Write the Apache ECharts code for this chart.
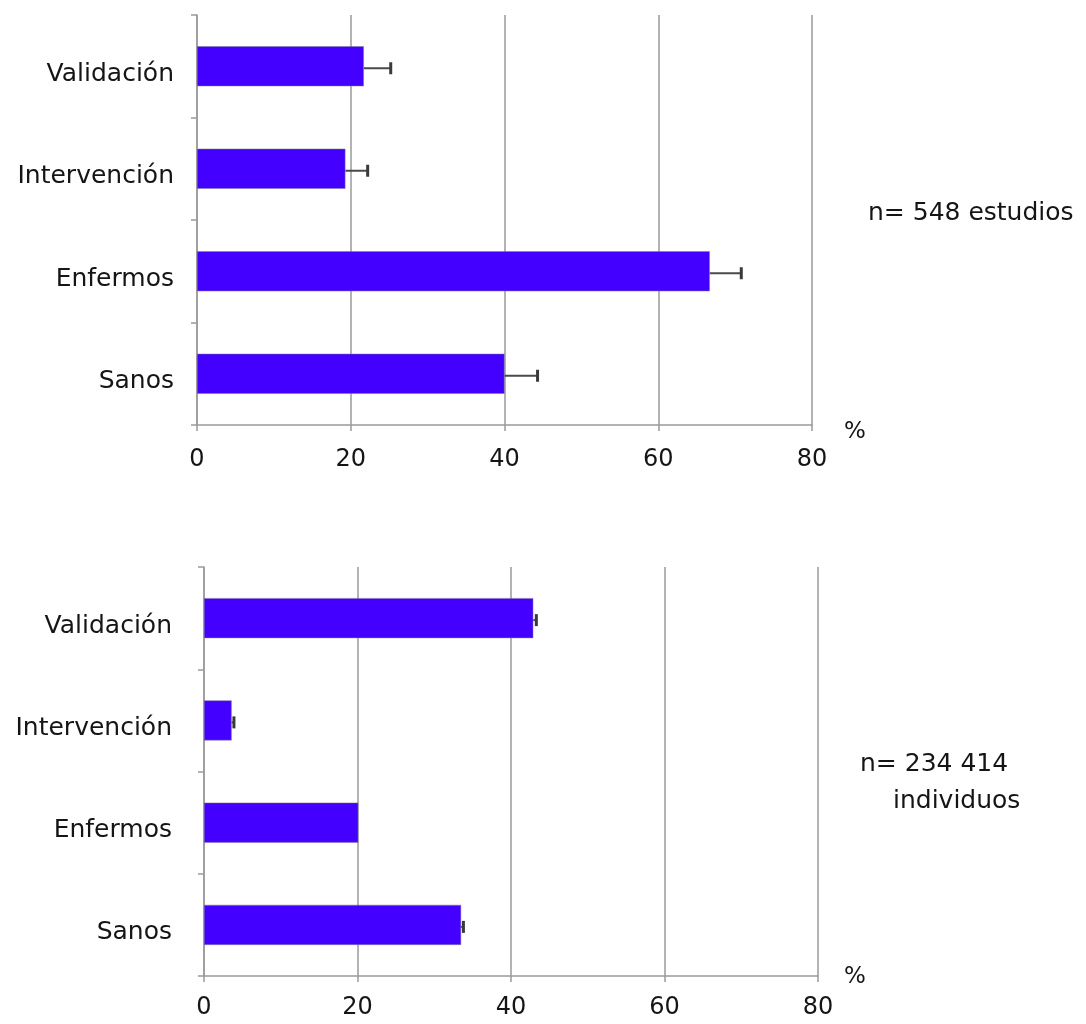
<!DOCTYPE html>
<html>
<head>
<meta charset="utf-8">
<script src="https://cdn.jsdelivr.net/npm/echarts@6/dist/echarts.min.js"></script>
<style>html,body{margin:0;padding:0;background:#fff}#c{width:1086px;height:1024px}</style>
</head>
<body>
<div id="c"></div>
<script>
var categories = ['Sanos', 'Enfermos', 'Intervención', 'Validación'];
var estudiosValues = [40.0, 66.7, 19.3, 21.7];
var estudiosErrors = [4.3, 4.1, 2.9, 3.5];
var individuosValues = [33.5, 20.1, 3.6, 42.9];
var individuosErrors = [0.3, 0.0, 0.3, 0.4];
var xMin = 0, xMax = 80, xInterval = 20;
var noteTop = 'n= 548 estudios';
var noteBottom1 = 'n= 234 414';
var noteBottom2 = 'individuos';
var unitLabel = '%';

var FONT = 'DejaVu Sans';
var TXT = '#151515';
var GRID = '#9a9a9a';
var BAR = '#4400ff';

function errData(vals, errs) {
  return vals.map(function (v, i) { return [i, v, errs[i]]; });
}
function errRender(params, api) {
  var cat = api.value(0), v = api.value(1), e = api.value(2);
  if (!(e > 0)) { return { type: 'group', children: [] }; }
  var s = api.coord([v, cat]);
  var t = api.coord([v + e, cat]);
  return {
    type: 'group',
    children: [
      { type: 'line', shape: { x1: s[0], y1: s[1] + 2, x2: t[0], y2: t[1] + 2 }, style: { stroke: '#4a4a4a', lineWidth: 2 } },
      { type: 'line', shape: { x1: t[0], y1: t[1] - 4, x2: t[0], y2: t[1] + 8 }, style: { stroke: '#3a3a3a', lineWidth: 3 } }
    ]
  };
}
function xAxis(gi, margin) {
  return {
    type: 'value', gridIndex: gi, min: xMin, max: xMax, interval: xInterval,
    axisLine: { show: true, lineStyle: { color: GRID, width: 1.5 } },
    axisTick: { show: true, length: 6, lineStyle: { color: GRID, width: 1.5 } },
    splitLine: { show: true, lineStyle: { color: GRID, width: 1.5 } },
    axisLabel: { color: TXT, fontFamily: FONT, fontSize: 24, margin: margin }
  };
}
function yAxis(gi, margin) {
  return {
    type: 'category', gridIndex: gi, data: categories,
    axisLine: { show: true, lineStyle: { color: GRID, width: 1.5 } },
    axisTick: { show: true, length: 6, alignWithLabel: false, lineStyle: { color: GRID, width: 1.5 } },
    axisLabel: {
      margin: margin,
      formatter: function (v) { return '{a|' + v + '}'; },
      rich: { a: { color: TXT, fontFamily: FONT, fontSize: 25, padding: [16, 0, 0, 0] } }
    }
  };
}
var chart = echarts.init(document.getElementById('c'), null, { renderer: 'canvas' });
chart.setOption({
  animation: false,
  backgroundColor: '#fff',
  grid: [
    { left: 197, right: 274, top: 15, height: 410 },
    { left: 204, right: 268, top: 567, height: 409 }
  ],
  xAxis: [xAxis(0, 23), xAxis(1, 20)],
  yAxis: [yAxis(0, 23), yAxis(1, 32)],
  series: [
    { type: 'bar', xAxisIndex: 0, yAxisIndex: 0, data: estudiosValues, barWidth: 40,
      itemStyle: { color: BAR, borderColor: '#7a7a9a', borderWidth: 0.5 } },
    { type: 'custom', xAxisIndex: 0, yAxisIndex: 0, data: errData(estudiosValues, estudiosErrors),
      encode: { x: 1, y: 0 }, renderItem: errRender, z: 3 },
    { type: 'bar', xAxisIndex: 1, yAxisIndex: 1, data: individuosValues, barWidth: 40,
      itemStyle: { color: BAR, borderColor: '#7a7a9a', borderWidth: 0.5 } },
    { type: 'custom', xAxisIndex: 1, yAxisIndex: 1, data: errData(individuosValues, individuosErrors),
      encode: { x: 1, y: 0 }, renderItem: errRender, z: 3 }
  ],
  graphic: [
    { type: 'text', left: 868, top: 201, style: { text: noteTop, fill: TXT, font: '25px "' + FONT + '"' } },
    { type: 'text', left: 860, top: 752, style: { text: noteBottom1, fill: TXT, font: '25px "' + FONT + '"' } },
    { type: 'text', left: 893, top: 789, style: { text: noteBottom2, fill: TXT, font: '25px "' + FONT + '"' } },
    { type: 'text', left: 844, top: 421, style: { text: unitLabel, fill: TXT, font: '23px "' + FONT + '"' } },
    { type: 'text', left: 844, top: 966, style: { text: unitLabel, fill: TXT, font: '23px "' + FONT + '"' } }
  ]
});
</script>
</body>
</html>
